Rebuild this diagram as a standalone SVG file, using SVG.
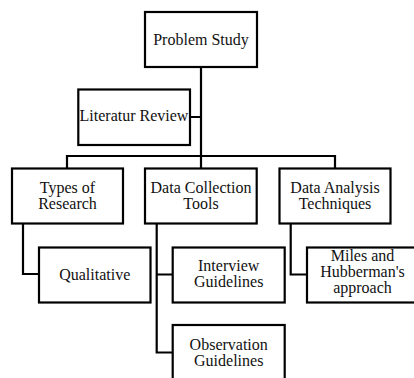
<svg xmlns="http://www.w3.org/2000/svg" width="414" height="378" viewBox="0 0 414 378">
<style>
.box{fill:#fff;stroke:#000;stroke-width:2.2}
.c{fill:none;stroke:#000;stroke-width:2.2}
text{font-family:"Liberation Serif","Times New Roman",serif;font-size:16px;fill:#111;text-anchor:middle}
</style>
<rect width="414" height="378" fill="#fff"/>
<g id="connectors">
<path class="c" d="M201 67V156M190 117H201M67 168V156H335V168M201 156V168"/>
<path class="c" d="M23 223.5V274H39"/>
<path class="c" d="M156.7 223.5V352.5H172.7M156.7 274.5H172.7"/>
<path class="c" d="M290.7 223.5V274.5H307"/>
</g>
<g id="problem-study"><rect class="box" x="145" y="12" width="112" height="55"/><text x="201" y="45">Problem Study</text></g>
<g id="literatur-review"><rect class="box" x="78.3" y="89.5" width="111.7" height="55.5"/><text x="134" y="121">Literatur Review</text></g>
<g id="types-of-research"><rect class="box" x="12" y="168.5" width="111" height="55"/><text x="67.5" y="193">Types of</text><text x="67.5" y="209">Research</text></g>
<g id="data-collection-tools"><rect class="box" x="145" y="168.5" width="111.7" height="55"/><text x="201" y="193">Data Collection</text><text x="201" y="209">Tools</text></g>
<g id="data-analysis-techniques"><rect class="box" x="279.5" y="168.5" width="111" height="55"/><text x="335" y="193">Data Analysis</text><text x="335" y="209">Techniques</text></g>
<g id="qualitative"><rect class="box" x="39" y="247.5" width="111.5" height="55"/><text x="94.7" y="280">Qualitative</text></g>
<g id="interview-guidelines"><rect class="box" x="172.7" y="247.5" width="112" height="55"/><text x="228.7" y="271">Interview</text><text x="228.7" y="287">Guidelines</text></g>
<g id="miles-hubberman"><rect class="box" x="307" y="247.5" width="111" height="55"/><text x="362.5" y="261">Miles and</text><text x="362.5" y="277">Hubberman's</text><text x="362.5" y="293">approach</text></g>
<g id="observation-guidelines"><rect class="box" x="172.7" y="325" width="112" height="55"/><text x="228.7" y="350">Observation</text><text x="228.7" y="366">Guidelines</text></g>
</svg>
